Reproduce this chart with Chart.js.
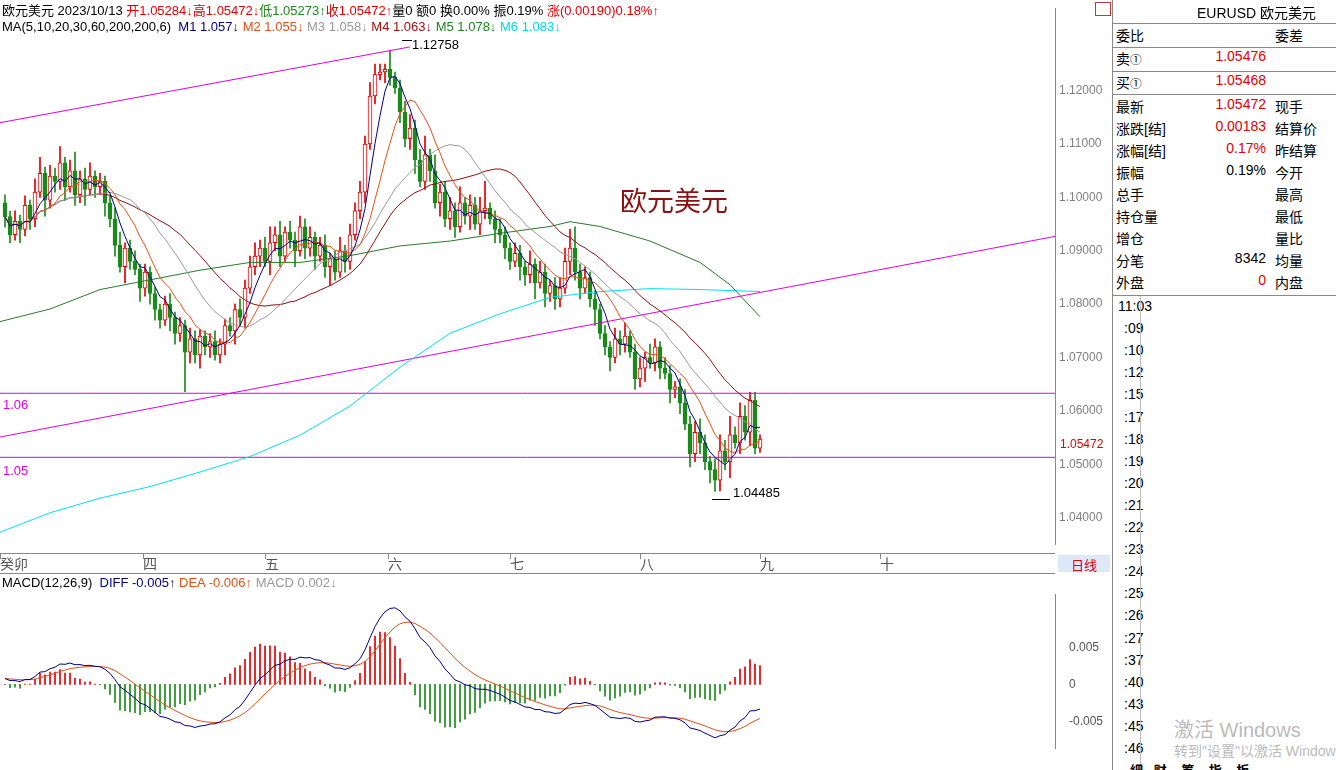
<!DOCTYPE html>
<html><head><meta charset="utf-8">
<script src="https://cdn.jsdelivr.net/npm/chart.js@4"></script>
<style>
body{margin:0;width:1336px;height:770px;overflow:hidden;background:#fff;font-family:"Liberation Sans","Noto Sans CJK SC",sans-serif;font-size:13px;position:relative}
.a{position:absolute;white-space:nowrap}
#main{position:absolute;left:0;top:0}
#macd{position:absolute;left:0;top:573px}
.r{color:#e00000}.g{color:#1a8a1a}
</style></head><body>
<canvas id="main" width="1112" height="553"></canvas>
<canvas id="macd" width="1112" height="197"></canvas>
<script>
const closes=[1.0964,1.0930,1.0955,1.0940,1.0985,1.0960,1.1010,1.1045,1.0995,1.1040,
1.1030,1.1065,1.1020,1.1050,1.1005,1.1035,1.1015,1.1040,1.1020,1.1030,
1.0990,1.0960,1.0910,1.0870,1.0905,1.0880,1.0865,1.0830,1.0860,1.0820,
1.0790,1.0770,1.0800,1.0775,1.0745,1.0760,1.0710,1.0735,1.0705,1.0740,
1.0720,1.0730,1.0705,1.0725,1.0760,1.0750,1.0790,1.0775,1.0830,1.0870,
1.0890,1.0905,1.0880,1.0915,1.0930,1.0890,1.0935,1.0920,1.0900,1.0945,
1.0905,1.0925,1.0890,1.0910,1.0870,1.0885,1.0860,1.0900,1.0880,1.0930,
1.0975,1.1010,1.1100,1.1190,1.1230,1.1235,1.1240,1.1225,1.1205,1.1160,
1.1110,1.1130,1.1070,1.1030,1.1080,1.1050,1.0990,1.1010,1.0960,1.0975,
1.0945,1.0990,1.0965,1.0985,1.0950,1.0975,1.0980,1.0960,1.0940,1.0930,
1.0905,1.0880,1.0895,1.0870,1.0855,1.0875,1.0840,1.0860,1.0820,1.0835,
1.0810,1.0830,1.0880,1.0905,1.0860,1.0830,1.0850,1.0810,1.0790,1.0745,
1.0720,1.0700,1.0735,1.0725,1.0740,1.0710,1.0660,1.0680,1.0700,1.0690,
1.0720,1.0680,1.0670,1.0640,1.0645,1.0615,1.0575,1.0520,1.0560,1.0540,
1.0505,1.0490,1.0470,1.0525,1.0505,1.0555,1.0540,1.0590,1.0560,1.0620,
1.0530,1.05472];
const upWick=[15,10,20,12,18,10,25,30,12,20,15,30,10,20,35,15,20,25,10,15,
10,15,20,25,10,15,20,10,15,10,12,10,15,20,10,15,10,20,15,12,
10,15,20,10,12,15,10,20,15,20,25,15,20,30,15,25,10,20,15,20,
15,20,10,15,20,10,15,25,10,20,15,20,15,25,20,15,10,36,10,15,
20,25,15,20,35,10,30,15,20,25,15,30,10,20,15,25,50,10,15,20,
15,10,20,15,10,25,10,20,15,10,15,20,25,35,40,15,20,10,15,10,
15,10,20,15,25,10,15,20,10,25,15,10,20,15,10,15,25,15,20,25,
15,10,20,30,20,35,15,25,20,15,15,8];
const downWick=[20,15,10,25,12,20,15,10,30,15,20,15,25,10,20,15,30,10,20,15,
25,15,20,10,30,15,10,25,15,20,20,15,10,25,20,15,74,20,15,25,
15,20,10,15,20,10,25,15,20,10,15,20,10,25,15,20,10,15,30,10,
20,15,25,10,20,35,15,10,20,15,10,15,20,10,15,10,20,15,10,20,
15,20,25,10,15,20,10,25,15,20,20,10,15,25,10,20,15,10,25,15,
20,15,10,25,20,15,30,10,25,15,20,15,10,25,15,20,10,15,30,10,
15,25,10,20,15,10,20,15,25,10,15,20,10,25,15,20,10,25,15,20,
15,25,21,20,15,30,10,20,15,25,10,8];
const ma60Idx=[-1,9,19,29,39,49,59,69,79,89,99,109,113,119,129,139,145,151];
const ma60Val=[1.07673,1.07909,1.08273,1.08455,1.08636,1.08782,1.08782,1.08909,1.09091,1.09182,1.09327,1.09455,1.09545,1.09455,1.09182,1.08782,1.08364,1.07764];
const ma200Idx=[-1,9,19,29,39,49,59,69,79,89,99,109,119,129,139,151];
const ma200Val=[1.03727,1.04091,1.04364,1.04582,1.04855,1.05145,1.05545,1.06091,1.06818,1.07455,1.07818,1.08127,1.08236,1.08291,1.08273,1.08236];
const priceTicks=[1.04,1.05,1.06,1.07,1.08,1.09,1.10,1.11,1.12];
const macdTicks=[-0.005,0,0.005];
const months=[["癸卯",5],["四",148],["五",270],["六",393],["七",515],["八",645],["九",765],["十",885]];

const opens=closes.map((c,i)=>i?closes[i-1]:1.0990);
const body=[],wick=[],up=[];
closes.forEach((c,i)=>{const o=opens[i];body.push({x:i,y:[o,c]});up.push(c>=o);
 wick.push({x:i,y:[Math.min(o,c)-downWick[i]/10000,Math.max(o,c)+upWick[i]/10000]});});
function ma(n){return closes.map((c,i)=>{const s=closes.slice(Math.max(0,i-n+1),i+1);return {x:i,y:s.reduce((a,b)=>a+b,0)/s.length};});}
const RED='#e00000',GRN='#1a8a1a',MAG='#e000e0';
const line=(data,color,w=1)=>({type:'line',data,borderColor:color,borderWidth:w,pointRadius:0,tension:0,order:1,fill:false});
new Chart(document.getElementById('main'),{
 type:'bar',
 data:{datasets:[
  {data:wick,backgroundColor:up.map(u=>u?RED:GRN),barThickness:1,grouped:false,order:4},
  {data:body,backgroundColor:up.map(u=>u?'#fff':GRN),borderColor:up.map(u=>u?RED:GRN),borderWidth:1,borderSkipped:false,barThickness:4,grouped:false,order:3},
  line(ma(5),'#000080'),line(ma(10),'#e0501a'),line(ma(20),'#999999'),line(ma(30),'#8b1010'),
  line(ma60Idx.map((x,i)=>({x,y:ma60Val[i]})),'#2a7a2a'),
  line(ma200Idx.map((x,i)=>({x,y:ma200Val[i]})),'#00e0f0'),
  line([{x:-1,y:1.1140},{x:81,y:1.1282}],MAG),
  line([{x:-1,y:1.0551},{x:210,y:1.0927}],MAG),
  line([{x:-1,y:1.0633},{x:210,y:1.0633}],MAG),
  line([{x:-1,y:1.0513},{x:210,y:1.0513}],MAG)
 ]},
 options:{animation:false,responsive:false,events:[],layout:{padding:0},
  plugins:{legend:{display:false},tooltip:{enabled:false}},
  scales:{
   x:{type:'linear',min:-1,max:210,offset:false,display:false},
   y:{position:'right',min:1.03491,max:1.13545,afterFit:s=>{s.width=57},
     afterBuildTicks:s=>{s.ticks=priceTicks.map(v=>({value:v}))},
     grid:{display:false,drawTicks:true,tickLength:3,tickColor:'#888'},border:{color:'#888'},
     ticks:{color:'#808080',font:{size:12,family:'Liberation Sans'},padding:1,callback:v=>v.toFixed(5)}}
  }}
});
const k=2/13,k2=2/27,k3=2/10;let e1=closes[0],e2=closes[0],dea=0;const diff=[],deaA=[],hist=[];
closes.forEach((c,i)=>{e1=e1+(c-e1)*k;e2=e2+(c-e2)*k2;const d=e1-e2+0.0008;dea=i?dea+(d-dea)*k3:d;
 diff.push({x:i,y:d});deaA.push({x:i,y:dea});hist.push({x:i,y:[0,2*(d-dea)]});});
new Chart(document.getElementById('macd'),{
 type:'bar',
 data:{datasets:[
  {data:hist,backgroundColor:hist.map(h=>h.y[1]>=0?RED:GRN),barThickness:1,order:3},
  line(diff,'#000080'),line(deaA,'#e0501a')
 ]},
 options:{animation:false,responsive:false,events:[],layout:{padding:0},
  plugins:{legend:{display:false},tooltip:{enabled:false}},
  scales:{
   x:{type:'linear',min:-1,max:210,offset:false,display:false},
   y:{position:'right',min:-0.00872,max:0.01223,afterFit:s=>{s.width=57},
     afterBuildTicks:s=>{s.ticks=macdTicks.map(v=>({value:v}))},
     grid:{display:false,tickLength:0},border:{color:'#888'},
     ticks:{color:'#555',font:{size:12,family:'Liberation Sans'},padding:14,callback:v=>v===0?'0':v.toFixed(3)}}
  }}
});
const add=(html,x,y,st='')=>{const d=document.createElement('div');d.className='a';d.style.left=x+'px';d.style.top=y+'px';d.style.cssText+=st;d.innerHTML=html;document.body.appendChild(d);return d;};
add('欧元美元 2023/10/13 <span class="r">开1.05284↓高1.05472↓</span><span class="g">低1.05273↑</span><span class="r">收1.05472↑</span>量0 额0 换0.00% 振0.19% <span class="r">涨(0.00190)0.18%↑</span>',2,0);
add('MA(5,10,20,30,60,200,200,6)&nbsp; <span style="color:#000080">M1 1.057↓</span> <span style="color:#e0501a">M2 1.055↓</span> <span style="color:#999">M3 1.058↓</span> <span style="color:#a01010">M4 1.063↓</span> <span style="color:#1a8a1a">M5 1.078↓</span> <span style="color:#00d8e8">M6 1.083↓</span>',2,19);
add('1.12758',412,37);add('',402,40,'width:10px;height:1px;background:#000');
add('1.04485',733,485);add('',712,499,'width:18px;height:1px;background:#000');
add('欧元美元',620,180,'font-size:27px;color:#8b1010');
add('1.06',3,397,'color:'+MAG);add('1.05',3,463,'color:'+MAG);
add('1.05472',1060,437,'color:#e00000;font-size:12px');
add('',0,553,'width:1055px;height:19px;border-top:1px solid #888;border-bottom:1px solid #888');
months.forEach(([t,x])=>{add('',x-5,553,'width:1px;height:6px;background:#888');add(t,x-5,553,'color:#555;font-size:14px');});
add('日线',1058,555,'width:52px;height:17px;background:#dde8f8;color:#e00000;text-align:center;font-size:13px');
add('MACD(12,26,9) &nbsp;<span style="color:#000080">DIFF -0.005↑</span> <span style="color:#e0501a">DEA -0.006↑</span> <span style="color:#999">MACD 0.002↓</span>',2,575);
add('',1095,2,'width:14px;height:12px;border:1px solid #c33');
add('',1112,0,'width:1px;height:770px;background:#888');
add('EURUSD 欧元美元',1197,2,'font-size:14px');
add('',1113,23,'width:223px;height:1px;background:#888');
const rows=[['委比','','委差'],['卖<small>①</small>','1.05476',''],['买<small>①</small>','1.05468',''],['最新','1.05472','现手'],['涨跌[结]','0.00183','结算价'],['涨幅[结]','0.17%','昨结算'],['振幅','0.19%','今开'],['总手','','最高'],['持仓量','','最低'],['增仓','','量比'],['分笔','8342','均量'],['外盘','0','内盘']];
const ys=[25,48,72,96,118,140,162,184,206,228,250,272];
rows.forEach((r,i)=>{const red=(i>=1&&i<=5)||i==11;add(r[0],1116,ys[i],'font-size:14px');
 add(r[1],1116,ys[i],'width:150px;text-align:right;font-size:14px;color:'+(red?'#e00000':'#000'));add(r[2],1275,ys[i],'font-size:14px');});
[47,71,94,295].forEach(y=>add('',1113,y,'width:223px;height:1px;background:#888'));
const times=['11:03',':09',':10',':12',':15',':17',':18',':19',':20',':21',':22',':23',':24',':25',':26',':27',':37',':40',':43',':45',':46'];
times.forEach((t,i)=>add(t,1118+(i?6:0),298+i*22.1,'font-size:14px'));
add('',1140,296,'width:1px;height:474px;background:#bbb');
add('激活 Windows',1174,714,'font-size:20px;color:#bbb');
add('转到"设置"以激活 Windows。',1174,740,'font-size:14px;color:#bbb');
add('細 &nbsp; 财 &nbsp;&nbsp; 筹 &nbsp;&nbsp; 指 &nbsp;&nbsp; 板',1130,760,'font-size:13px;font-weight:bold');
</script></body></html>
